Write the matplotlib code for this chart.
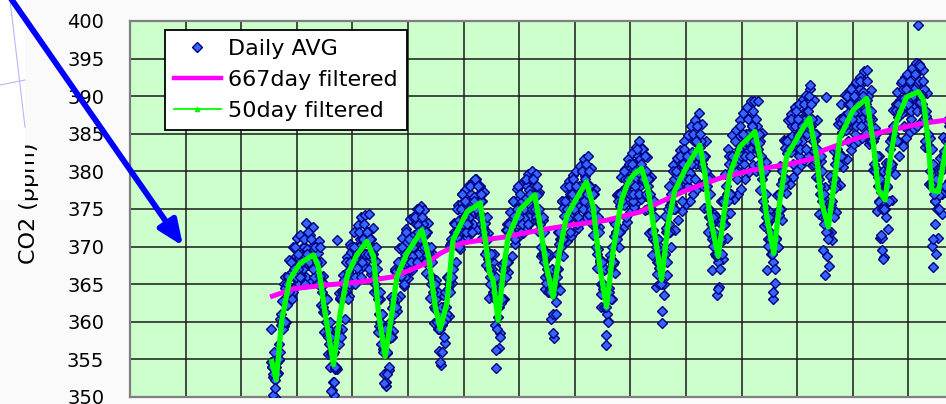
import numpy as np
import matplotlib.pyplot as plt
from matplotlib.lines import Line2D
from matplotlib.patches import Rectangle, FancyArrowPatch

# CO2 promedio diario (ppm), una muestra cada 1/30 de anio desde 1995.53
co2_diario = [
    354.7, 352.6, 349.9, 349.6, 353.2, 360.4, 362.8, 359.4, 365.9, 362.3, 368.2, 363.3, 369.9, 364.6, 371.2, 365.2, 371.6, 366.4, 370.1, 373.2, 367.5, 371.6, 365.6, 372.6, 367.7, 365.2, 370.7, 362.3, 366.1, 358.7,
    363.2, 355.7, 358.6, 350.9, 350.2, 358.7, 353.7, 363.8, 358.9, 366.2, 360.4, 368.6, 363.4, 370.4, 365.0, 372.0, 365.7, 372.9, 367.0, 373.9, 367.4, 374.2, 368.2, 374.4, 366.3, 372.5, 364.0, 368.1, 358.6, 363.0,
    361.1, 353.0, 351.5, 359.4, 353.6, 363.3, 358.8, 366.8, 361.4, 369.8, 363.4, 371.2, 364.7, 372.4, 365.8, 373.7, 366.9, 374.0, 367.8, 375.0, 368.6, 375.4, 369.3, 374.9, 366.5, 373.2, 363.2, 369.2, 359.9, 365.6,
    363.5, 356.1, 354.2, 363.6, 357.2, 365.9, 360.8, 370.2, 365.2, 373.2, 368.0, 375.5, 369.7, 377.0, 370.9, 377.5, 371.3, 378.2, 371.8, 378.7, 372.3, 379.0, 372.3, 378.1, 371.2, 377.2, 367.5, 371.8, 363.1, 369.0,
    368.0, 359.6, 364.6, 356.5, 358.5, 367.6, 363.0, 372.2, 366.6, 374.6, 368.8, 376.1, 370.3, 377.6, 371.4, 378.3, 371.8, 378.9, 372.5, 379.6, 373.1, 380.1, 373.7, 379.7, 372.1, 377.3, 368.7, 373.6, 364.4, 369.1,
    368.8, 360.4, 366.3, 357.9, 362.6, 372.0, 364.2, 376.1, 368.8, 377.9, 370.7, 378.7, 371.4, 379.5, 372.1, 380.1, 372.5, 380.7, 373.4, 381.6, 374.0, 382.1, 374.2, 380.5, 371.5, 377.6, 367.1, 372.6, 362.0, 368.1,
    366.9, 356.9, 360.1, 368.9, 363.0, 373.3, 366.5, 376.9, 370.0, 379.2, 372.5, 380.3, 373.3, 381.6, 374.6, 382.4, 375.2, 383.2, 376.0, 384.0, 376.3, 383.0, 374.9, 381.9, 371.8, 379.3, 368.9, 375.9, 364.6, 371.0,
    369.7, 359.8, 363.5, 374.1, 366.2, 378.0, 370.0, 380.9, 372.2, 381.8, 373.6, 382.9, 374.7, 384.1, 375.6, 384.8, 376.0, 386.0, 377.0, 386.9, 377.6, 387.8, 378.2, 386.3, 375.1, 384.0, 372.0, 379.2, 366.9, 374.4,
    373.4, 363.5, 364.6, 376.1, 368.4, 379.7, 371.2, 383.0, 374.5, 384.9, 376.3, 385.5, 377.0, 386.8, 377.7, 387.7, 379.0, 388.5, 379.9, 389.3, 380.8, 389.4, 380.0, 389.3, 377.5, 385.1, 372.8, 381.2, 366.9, 374.8,
    373.7, 363.0, 365.2, 376.8, 370.0, 380.7, 373.6, 384.2, 377.1, 386.8, 378.3, 387.6, 379.2, 388.5, 380.2, 389.0, 380.9, 389.6, 381.5, 390.2, 382.1, 390.9, 380.8, 389.5, 379.3, 386.8, 374.4, 381.4, 369.5, 377.9,
    368.7, 367.4, 379.4, 370.9, 382.7, 374.6, 386.3, 378.2, 388.9, 380.6, 390.1, 381.6, 390.7, 382.9, 391.3, 383.6, 391.9, 384.0, 392.6, 384.4, 393.4, 385.1, 393.5, 383.7, 390.8, 380.2, 385.8, 374.7, 382.0, 371.2,
    371.1, 368.6, 381.1, 372.3, 384.1, 376.2, 388.1, 379.7, 390.5, 382.0, 391.8, 383.4, 392.5, 384.5, 393.0, 385.2, 393.8, 385.7, 394.4, 386.1, 394.3, 386.6, 393.5, 383.2, 390.4, 378.3, 384.4, 370.1, 379.6, 369.0,
    371.2, 381.8, 374.3, 384.6, 377.2, 386.8, 378.7, 388.5, 380.7, 390.1, 382.0, 391.1,
]
# dias intermedios, 1/120, 2/120 y 3/120 de anio despues de cada muestra
co2_diario_c = [
    359, 353, 350, 353, 357, 356, 360, 365, 360, 366, 364, 368, 364, 370, 367, 365, 369, 367, 370, 366, 372, 368, 370, 366, 370, 368, 365, 368, 362, 363,
    363, 357, 354, 356, 356, 354, 358, 363, 359, 365, 364, 368, 365, 370, 368, 365, 370, 368, 371, 368, 373, 369, 372, 367, 371, 369, 365, 367, 361, 360,
    361, 356, 352, 358, 360, 358, 362, 367, 363, 368, 366, 370, 366, 372, 369, 367, 371, 370, 373, 369, 375, 371, 373, 368, 372, 369, 365, 368, 362, 363,
    364, 359, 356, 362, 364, 361, 365, 371, 367, 373, 371, 375, 372, 377, 374, 372, 376, 374, 377, 373, 379, 375, 377, 373, 376, 372, 369, 371, 366, 367,
    369, 363, 359, 362, 365, 363, 367, 373, 368, 373, 372, 376, 372, 378, 375, 372, 376, 375, 378, 374, 379, 376, 378, 374, 377, 373, 369, 372, 366, 367,
    369, 364, 361, 365, 369, 367, 371, 376, 371, 376, 374, 377, 374, 379, 376, 373, 378, 376, 380, 376, 381, 377, 378, 373, 377, 373, 369, 372, 365, 365,
    367, 361, 360, 367, 370, 368, 372, 377, 372, 377, 376, 379, 376, 381, 379, 376, 381, 379, 382, 378, 383, 379, 380, 375, 379, 375, 371, 374, 368, 368,
    370, 365, 365, 372, 375, 372, 376, 380, 375, 379, 378, 381, 378, 383, 380, 378, 382, 381, 384, 381, 386, 382, 384, 378, 382, 378, 374, 377, 371, 372,
    374, 368, 367, 373, 376, 373, 377, 382, 377, 382, 380, 384, 380, 386, 383, 381, 385, 383, 387, 383, 388, 384, 386, 381, 384, 379, 375, 377, 371, 372,
    374, 368, 367, 374, 377, 375, 379, 384, 379, 384, 383, 386, 383, 388, 385, 382, 387, 385, 388, 385, 390, 386, 387, 381, 385, 382, 377, 380, 374, 375,
    376, 372, 372, 378, 381, 378, 382, 387, 382, 387, 386, 389, 386, 391, 388, 385, 390, 388, 391, 387, 392, 389, 390, 384, 387, 384, 380, 382, 376, 378,
    380, 375, 374, 380, 383, 381, 385, 389, 384, 389, 388, 391, 388, 393, 390, 387, 391, 389, 393, 389, 394, 389, 391, 384, 387, 383, 378, 381, 376, 378,
    380, 377, 377, 382, 384, 381, 384, 388, 383, 388, 387, 390,
]
co2_diario_b = [
    354.0, 354.8, 352.3, 354.6, 354.9, 359.6, 360.3, 364.5, 363.8, 366.1, 364.4, 366.6, 365.9, 368.7, 367.0, 368.5, 366.1, 368.7, 367.9, 369.7, 367.6, 369.0, 367.4, 369.7, 367.5, 369.1, 366.1, 365.3, 361.3, 361.3,
    358.2, 359.0, 355.7, 355.7, 353.7, 357.8, 358.5, 363.1, 363.0, 365.5, 364.1, 366.7, 366.3, 369.3, 367.8, 369.5, 367.2, 369.9, 369.2, 371.2, 369.2, 370.8, 369.0, 370.9, 368.5, 369.8, 365.9, 364.1, 359.4, 359.2,
    356.4, 357.5, 355.9, 358.6, 357.9, 361.8, 362.5, 366.8, 366.1, 368.0, 366.1, 368.4, 367.7, 370.6, 369.1, 371.0, 368.8, 371.6, 371.0, 372.9, 370.8, 372.3, 370.1, 371.6, 368.9, 369.6, 366.1, 365.3, 361.7, 361.9,
    359.1, 360.9, 359.6, 361.9, 360.4, 364.3, 365.5, 370.5, 370.6, 373.0, 371.3, 373.6, 373.0, 375.8, 374.0, 375.4, 373.0, 375.6, 374.8, 376.6, 374.5, 375.9, 374.3, 376.0, 372.6, 373.1, 369.4, 368.4, 365.0, 366.2,
    363.5, 363.9, 360.7, 362.5, 362.5, 366.9, 367.8, 372.2, 371.5, 373.6, 371.8, 374.1, 373.4, 376.2, 374.5, 376.1, 373.8, 376.5, 375.7, 377.5, 375.4, 376.9, 375.2, 376.9, 373.5, 373.7, 369.9, 369.0, 365.2, 366.2,
    364.4, 365.6, 363.7, 366.3, 366.0, 370.3, 371.0, 375.1, 374.1, 375.9, 373.8, 375.9, 375.1, 377.7, 375.9, 377.4, 375.2, 378.0, 377.4, 379.4, 377.3, 378.1, 375.3, 376.8, 373.7, 373.8, 369.7, 368.2, 363.7, 364.3,
    362.0, 364.2, 364.5, 368.3, 367.7, 371.4, 371.9, 376.1, 375.4, 377.4, 375.5, 377.9, 377.3, 380.2, 378.5, 380.2, 378.0, 380.6, 379.8, 381.6, 378.9, 379.2, 376.7, 378.1, 375.1, 376.0, 372.2, 370.8, 366.4, 367.1,
    365.2, 368.3, 369.0, 372.5, 371.8, 375.5, 375.6, 379.0, 377.7, 379.5, 377.6, 379.9, 379.1, 381.9, 380.2, 382.0, 379.8, 382.6, 382.0, 384.0, 382.1, 383.3, 380.6, 381.6, 378.4, 378.9, 375.0, 374.0, 370.1, 370.9,
    368.8, 370.8, 370.5, 373.7, 372.9, 376.6, 377.1, 381.0, 380.0, 381.9, 380.0, 382.3, 381.7, 384.7, 383.1, 384.7, 382.4, 385.0, 384.3, 386.1, 384.0, 385.3, 382.8, 383.8, 380.0, 379.6, 375.2, 374.0, 370.1, 371.0,
    369.0, 371.1, 371.1, 374.8, 374.2, 378.3, 378.9, 383.1, 382.5, 384.5, 382.6, 384.7, 383.9, 386.5, 384.8, 386.4, 384.1, 386.8, 386.1, 388.0, 385.8, 386.1, 382.9, 384.2, 381.3, 381.9, 378.0, 376.8, 373.0, 374.0,
    372.0, 375.0, 375.5, 378.7, 377.8, 381.8, 382.5, 386.4, 385.3, 387.4, 385.5, 387.8, 386.9, 389.6, 387.8, 389.3, 386.9, 389.5, 388.7, 390.5, 388.4, 389.5, 386.5, 387.2, 384.0, 384.4, 380.4, 379.3, 375.9, 377.2,
    375.4, 378.1, 377.9, 381.1, 380.6, 384.4, 384.4, 388.1, 387.3, 389.5, 387.7, 389.8, 388.8, 391.4, 389.6, 391.1, 388.6, 391.1, 390.2, 391.8, 389.2, 390.1, 387.0, 387.4, 383.5, 382.9, 378.5, 378.4, 376.1, 377.7,
    376.8, 380.5, 380.3, 382.7, 381.3, 384.3, 384.0, 387.6, 386.6, 388.6, 386.7, 389.0,
]
co2_diario_d = [
    354, 356, 354, 349, 355, 361, 359, 360, 365, 364, 368, 363, 367, 366, 369, 366, 368, 371, 365, 369, 368, 371, 367, 370, 368, 365, 370, 364, 365, 360,
    358, 360, 358, 352, 354, 359, 357, 358, 364, 364, 368, 363, 368, 366, 370, 366, 369, 372, 366, 371, 369, 372, 369, 371, 369, 366, 370, 363, 364, 357,
    356, 359, 356, 354, 358, 363, 361, 362, 368, 367, 370, 365, 369, 368, 371, 368, 370, 374, 368, 372, 371, 374, 370, 372, 370, 366, 370, 364, 365, 360,
    359, 362, 360, 358, 362, 366, 364, 366, 372, 372, 375, 370, 375, 373, 376, 373, 375, 378, 372, 376, 375, 378, 374, 377, 374, 369, 374, 367, 369, 364,
    364, 366, 363, 358, 363, 368, 366, 368, 373, 372, 376, 371, 375, 374, 377, 373, 375, 379, 373, 377, 375, 379, 375, 378, 375, 370, 374, 368, 369, 364,
    364, 367, 365, 361, 367, 372, 370, 371, 376, 375, 378, 372, 377, 375, 378, 374, 377, 380, 375, 379, 377, 380, 375, 377, 375, 370, 374, 368, 368, 362,
    362, 364, 364, 363, 368, 373, 371, 372, 377, 376, 380, 374, 379, 377, 381, 377, 380, 383, 377, 381, 379, 382, 377, 379, 377, 372, 376, 370, 371, 365,
    365, 368, 369, 368, 373, 377, 375, 375, 380, 378, 382, 376, 381, 379, 382, 379, 381, 385, 379, 384, 382, 385, 381, 382, 380, 375, 379, 373, 374, 369,
    369, 371, 371, 369, 374, 378, 376, 377, 382, 381, 384, 379, 383, 382, 385, 382, 384, 387, 382, 386, 384, 387, 383, 385, 382, 376, 380, 373, 374, 369,
    369, 371, 371, 370, 375, 380, 378, 379, 384, 383, 387, 381, 386, 384, 387, 383, 386, 389, 383, 388, 386, 389, 384, 385, 383, 379, 382, 376, 377, 372,
    371, 375, 376, 374, 379, 383, 381, 382, 387, 386, 390, 384, 389, 387, 390, 386, 389, 392, 386, 390, 388, 392, 387, 388, 385, 381, 385, 378, 379, 375,
    375, 378, 378, 376, 381, 386, 384, 384, 389, 388, 392, 386, 391, 389, 392, 388, 390, 393, 388, 392, 390, 392, 388, 388, 385, 380, 383, 377, 379, 375,
    375, 380, 381, 378, 382, 386, 383, 383, 388, 387, 391, 385,
]
fecha_diaria = 1995.53 + np.arange(len(co2_diario)) / 30

# dias sueltos fuera de la nube
atip_anio = [1995.57, 1995.60, 1996.62, 1996.67, 1996.72, 1997.57, 1997.62, 1998.57, 1999.58, 1999.59,
             2000.60, 2001.56, 2002.56, 2003.58, 2004.57, 2005.23, 2005.50, 2005.51, 2006.50, 2006.52,
             2006.55, 2007.18, 2007.44, 2007.45, 2007.48]
atip_co2 = [350.3, 351.2, 350.8, 352.0, 370.9, 351.8, 353.0, 354.6, 356.3, 353.8,
            358.5, 358.2, 361.5, 364.3, 364.0, 391.5, 366.2, 389.9, 371.5, 369.5,
            368.3, 399.5, 371.0, 367.3, 373.0]

# filtro de 50 dias
verde_anio = [1995.55, 1995.63, 1995.73, 1995.87, 1996.06, 1996.30, 1996.39, 1996.51, 1996.66, 1996.78,
              1996.91, 1997.08, 1997.26, 1997.38, 1997.47, 1997.59, 1997.71, 1997.80, 1997.98, 1998.25,
              1998.37, 1998.49, 1998.58, 1998.70, 1998.81, 1999.06, 1999.30, 1999.39, 1999.47, 1999.53,
              1999.62, 1999.71, 1999.80, 2000.01, 2000.28, 2000.37, 2000.49, 2000.61, 2000.73, 2000.85,
              2001.03, 2001.21, 2001.33, 2001.45, 2001.57, 2001.69, 2001.84, 2001.95, 2002.05, 2002.20,
              2002.32, 2002.41, 2002.56, 2002.68, 2002.80, 2003.01, 2003.25, 2003.34, 2003.43, 2003.58,
              2003.70, 2003.79, 2003.97, 2004.24, 2004.33, 2004.45, 2004.58, 2004.69, 2004.81, 2005.05,
              2005.22, 2005.35, 2005.44, 2005.56, 2005.68, 2005.77, 2006.01, 2006.25, 2006.37, 2006.46,
              2006.58, 2006.67, 2006.79, 2006.97, 2007.18, 2007.27, 2007.36, 2007.42, 2007.54, 2007.66,
              2007.80, 2007.95]
verde_co2 = [354.7, 352.3, 360.2, 365.6, 367.8, 368.9, 367.3, 361.1, 354.3, 361.1,
             366.2, 368.9, 370.7, 368.7, 361.1, 355.4, 361.1, 366.0, 369.1, 372.2,
             368.7, 362.0, 359.1, 362.5, 370.9, 374.6, 375.8, 370.9, 366.4, 365.6,
             360.2, 366.4, 371.3, 374.9, 376.9, 373.1, 367.3, 363.3, 369.5, 374.0,
             376.4, 378.6, 375.3, 367.3, 362.0, 369.5, 376.2, 378.4, 379.5, 380.4,
             377.5, 373.1, 365.6, 373.1, 377.5, 380.6, 383.5, 379.7, 374.0, 368.7,
             375.3, 379.7, 383.3, 385.3, 382.0, 374.0, 369.1, 376.2, 382.0, 385.1,
             387.1, 382.0, 375.8, 372.6, 379.3, 384.6, 388.2, 389.7, 383.7, 377.5,
             376.2, 381.5, 386.8, 389.9, 390.6, 389.5, 383.7, 377.5, 377.3, 382.4,
             386.5, 389.0]

# filtro de 667 dias
tend_anio = [1995.52, 1995.94, 1996.54, 1997.14, 1997.74, 1998.34, 1998.58, 1998.94, 1999.17, 1999.77,
             2000.37, 2000.97, 2001.57, 2002.17, 2002.41, 2003.01, 2003.61, 2004.21, 2004.81, 2005.29,
             2005.47, 2006.07, 2006.67, 2007.27, 2007.66, 2008.00]
tend_co2 = [363.3, 364.4, 364.9, 365.3, 366.0, 367.8, 369.1, 370.4, 370.7, 371.3,
            372.2, 372.9, 373.5, 374.6, 375.5, 377.5, 379.1, 380.2, 380.9, 381.7,
            382.8, 384.4, 385.5, 386.4, 386.8, 387.2]

W, H = 946, 404
fig = plt.figure(figsize=(W / 100, H / 100), dpi=100, facecolor='#fafafa')
ax = fig.add_axes([130 / W, 7 / H, 889.6 / W, 376 / H])
ax.set_facecolor('#ccffcc')

estilo_diamante = dict(ls='none', marker='D', ms=5.0, mfc='#3366ff', mec='#000080', mew=1.0)
ax.plot(fecha_diaria, co2_diario, zorder=3, **estilo_diamante)
ax.plot(fecha_diaria + 1 / 120, co2_diario_c, zorder=3, **estilo_diamante)
ax.plot(fecha_diaria + 2 / 120, co2_diario_b, zorder=3, **estilo_diamante)
ax.plot(fecha_diaria + 3 / 120, co2_diario_d, zorder=3, **estilo_diamante)
ax.plot(atip_anio, atip_co2, zorder=3, **estilo_diamante)
ax.plot(tend_anio, tend_co2, color='#ff00ff', lw=3.6, zorder=4, solid_capstyle='butt')
ax.plot(verde_anio, verde_co2, color='#00ff00', lw=3.8, zorder=5, solid_joinstyle='round')

ax.set_xlim(1993, 2009)
ax.set_ylim(350, 400)
ax.set_xticks(np.arange(1993, 2010))
ax.set_yticks(np.arange(350, 401, 5))
ax.tick_params(axis='x', length=0, labelbottom=False)
ax.tick_params(axis='y', length=0, pad=18.5, labelsize=14)
ax.grid(True, color='#1a1a1a', lw=1.1)
ax.set_axisbelow(True)
for lado in ['top', 'left', 'bottom']:
    ax.spines[lado].set_color('#7f7f7f')
    ax.spines[lado].set_linewidth(1.6)

fig.text(29 / W, 1 - 203 / H, 'CO2 (ppm)', rotation=90, ha='center', va='center', fontsize=16, zorder=3)

manijas = [
    Line2D([], [], **estilo_diamante),
    Line2D([], [], color='#ff00ff', lw=3.2),
    Line2D([], [], color='#00ff00', lw=1.3, marker='^', ms=3),
]
etiquetas = ['Daily AVG', '667day filtered', '50day filtered']
leg = ax.legend(manijas, etiquetas, loc='upper left', bbox_to_anchor=(165 / W, 1 - 30 / H),
                bbox_transform=fig.transFigure, fontsize=16, frameon=True, fancybox=False,
                framealpha=1, edgecolor='black', borderaxespad=0, borderpad=0.4,
                handlelength=2.1, handletextpad=0.35, labelspacing=0.5)
leg.get_frame().set_linewidth(1.3)
leg.set_zorder(10)

# recorte blanco y cruz de cursor arriba a la izquierda
fig.add_artist(Rectangle((0, 1 - 200 / H), 25 / W, 200 / H, transform=fig.transFigure,
                         facecolor='white', edgecolor='none', zorder=4))
fig.add_artist(Line2D([10 / W, 25 / W], [1, 1 - 127 / H], transform=fig.transFigure,
                      color='#b4b8ff', lw=0.8, zorder=5))
fig.add_artist(Line2D([0, 25 / W], [1 - 85 / H, 1 - 80 / H], transform=fig.transFigure,
                      color='#b4b8ff', lw=0.8, zorder=5))

flecha = FancyArrowPatch((5 / W, 1 + 10 / H), (183 / W, 1 - 246 / H), transform=fig.transFigure,
                         arrowstyle='-|>,head_length=0.75,head_width=0.32', mutation_scale=20,
                         color='#0000ff', lw=4.2, shrinkA=0, shrinkB=0, zorder=6)
fig.add_artist(flecha)

fig.savefig('out.png', dpi=100, facecolor=fig.get_facecolor())
